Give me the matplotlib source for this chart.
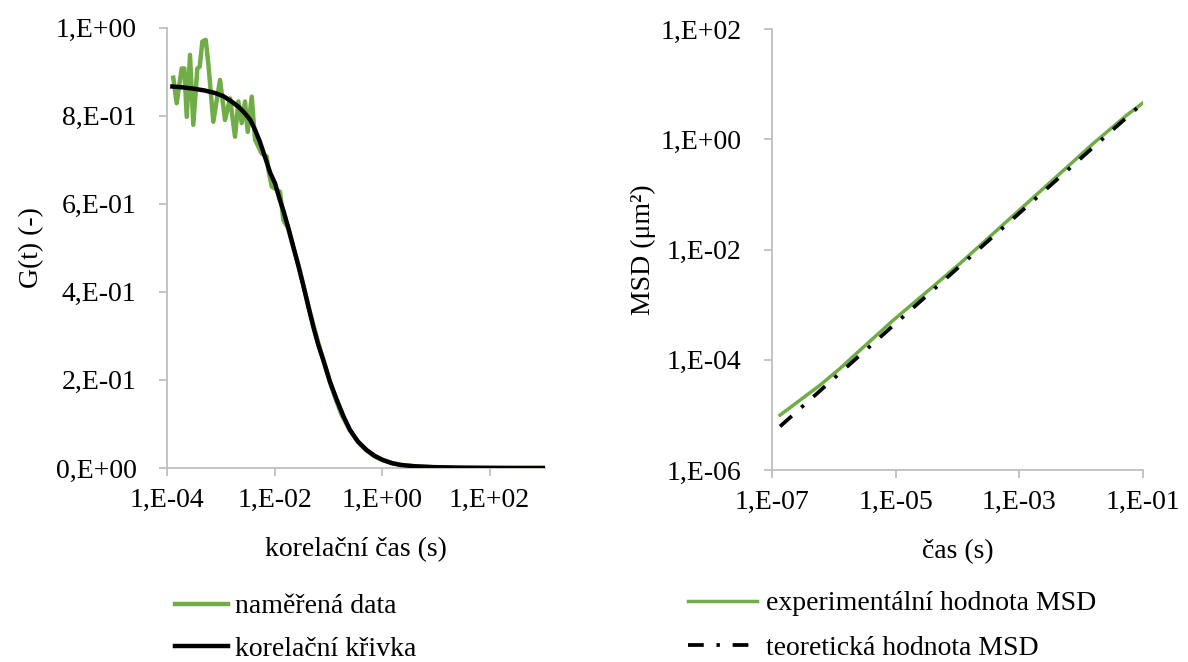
import numpy as np
import matplotlib
matplotlib.use("Agg")
import matplotlib.pyplot as plt
from matplotlib.ticker import FixedLocator, FixedFormatter

plt.rcParams['font.family'] = ['Liberation Serif', 'DejaVu Serif']
plt.rcParams['font.size'] = 20

GREEN = '#70AD47'
GRAY = '#BFBFBF'

# --- left panel: correlation function (log10 of time, G) ---
meas_logt = [-3.883, -3.820, -3.727, -3.678, -3.633, -3.572, -3.511, -3.436, -3.392,
             -3.343, -3.280, -3.232, -3.139, -3.014, -2.921, -2.828, -2.735, -2.673,
             -2.610, -2.549, -2.499, -2.424, -2.363, -2.238, -2.145, -2.115, -2.052,
             -1.898, -1.836, -1.75, -1.65, -1.55, -1.45, -1.35, -1.25, -1.15, -1.05,
             -0.95, -0.85, -0.75, -0.60, -0.45, -0.30, -0.15, 0.0, 0.2, 0.4, 0.7,
             1.0, 1.5, 2.0, 2.5, 3.03]
meas_g = [0.886, 0.828, 0.907, 0.907, 0.797, 0.938, 0.779, 0.907, 0.911,
          0.968, 0.972, 0.919, 0.786, 0.881, 0.790, 0.839, 0.752, 0.832,
          0.783, 0.832, 0.763, 0.843, 0.745, 0.714, 0.707, 0.677, 0.639,
          0.627, 0.563, 0.545, 0.500, 0.458, 0.408, 0.358, 0.312, 0.268, 0.228,
          0.188, 0.152, 0.120, 0.086, 0.060, 0.041, 0.027, 0.018, 0.011, 0.006, 0.003,
          0.0015, 0.0005, 0.0002, 0.0, 0.0]

fit_logt = [-3.90, -3.70, -3.50, -3.30, -3.10, -2.95, -2.80, -2.67, -2.55, -2.45,
            -2.36, -2.27, -2.18, -2.08, -1.99, -1.91, -1.84, -1.75, -1.65, -1.55,
            -1.46, -1.37, -1.28, -1.19, -1.09, -0.97, -0.84, -0.72, -0.60, -0.45,
            -0.29, -0.13, 0.02, 0.18, 0.34, 0.60, 0.95, 1.40, 2.00, 2.60, 3.03]
fit_g = [0.866, 0.864, 0.861, 0.857, 0.851, 0.844, 0.832, 0.820, 0.805, 0.790,
         0.767, 0.740, 0.707, 0.670, 0.646, 0.612, 0.586, 0.548, 0.502, 0.456,
         0.412, 0.366, 0.321, 0.281, 0.244, 0.196, 0.154, 0.118, 0.087, 0.060,
         0.041, 0.027, 0.018, 0.011, 0.007, 0.004, 0.002, 0.0008, 0.0002, 0.0, 0.0]

# --- right panel: MSD (log10 of time, log10 of MSD in um^2) ---
exp_logt = [-6.87, -6.547, -6.223, -5.900, -5.576, -5.037, -4.497, -3.958,
            -3.419, -2.879, -2.340, -1.801, -1.261, -1.0]
exp_logmsd = [-5.005, -4.733, -4.461, -4.158, -3.826, -3.281, -2.768, -2.252,
              -1.708, -1.163, -0.619, -0.074, 0.439, 0.66]

theo_logt = [-6.87, -5.0, -3.0, -1.0]
theo_logmsd = [-5.21, -3.34, -1.34, 0.66]

left_ticks = [1e-4, 1e-2, 1e0, 1e2]
left_ticklabels = ['1,E-04', '1,E-02', '1,E+00', '1,E+02']
left_yticks = [0.0, 0.2, 0.4, 0.6, 0.8, 1.0]
left_yticklabels = ['0,E+00', '2,E-01', '4,E-01', '6,E-01', '8,E-01', '1,E+00']
right_xticks = [1e-7, 1e-5, 1e-3, 1e-1]
right_xticklabels = ['1,E-07', '1,E-05', '1,E-03', '1,E-01']
right_yticks = [1e-6, 1e-4, 1e-2, 1e0, 1e2]
right_yticklabels = ['1,E-06', '1,E-04', '1,E-02', '1,E+00', '1,E+02']

fig = plt.figure(figsize=(11.88, 6.62), dpi=100)
ax1 = fig.add_axes([167 / 1188, 1 - 468 / 662, (545 - 167) / 1188, (468 - 27.5) / 662])
ax2 = fig.add_axes([772 / 1188, 1 - 470 / 662, (1143 - 772) / 1188, (470 - 29) / 662])


def style(ax):
    for s in ['top', 'right']:
        ax.spines[s].set_visible(False)
    for s in ['left', 'bottom']:
        ax.spines[s].set_color(GRAY)
        ax.spines[s].set_linewidth(1.3)
    ax.tick_params(which='major', direction='out', length=6, width=1.3, color=GRAY,
                   labelsize=20, pad=8)
    ax.tick_params(axis='y', pad=16)
    ax.tick_params(which='minor', length=0)


ax1.plot(10 ** np.array(meas_logt), meas_g, color=GREEN, lw=3.2, solid_joinstyle='round',
         label='naměřená data', zorder=2)
ax1.plot(10 ** np.array(fit_logt), fit_g, color='black', lw=3.2, label='korelační křivka',
         zorder=3)
ax1.set_xscale('log')
ax1.set_xlim(1e-4, 10 ** 3.03)
ax1.set_ylim(0, 1.0)
ax1.xaxis.set_major_locator(FixedLocator(left_ticks))
ax1.xaxis.set_major_formatter(FixedFormatter(left_ticklabels))
ax1.xaxis.set_minor_locator(FixedLocator([]))
ax1.yaxis.set_major_locator(FixedLocator(left_yticks))
ax1.yaxis.set_major_formatter(FixedFormatter(left_yticklabels))
style(ax1)
ax1.set_xlabel('korelační čas (s)', fontsize=20, labelpad=18)
ax1.set_ylabel('G(t) (-)', fontsize=20, labelpad=8)
ax1.legend(loc='upper left', bbox_to_anchor=(175 / 1188, 1 - 594 / 662),
           bbox_transform=fig.transFigure, frameon=False, fontsize=20,
           handlelength=1.9, handletextpad=0.25, labelspacing=0.6, borderpad=0,
           borderaxespad=0)

ax2.plot(10 ** np.array(exp_logt), 10 ** np.array(exp_logmsd), color=GREEN, lw=2.5,
         label='experimentální hodnota MSD', zorder=2)
ax2.plot(10 ** np.array(theo_logt), 10 ** np.array(theo_logmsd), color='black', lw=2.7,
         linestyle=(0, (4.2, 3.4, 0.9, 3.4)), label='teoretická hodnota MSD', zorder=3)
ax2.set_xscale('log')
ax2.set_yscale('log')
ax2.set_xlim(1e-7, 1e-1)
ax2.set_ylim(1e-6, 1e2)
ax2.xaxis.set_major_locator(FixedLocator(right_xticks))
ax2.xaxis.set_major_formatter(FixedFormatter(right_xticklabels))
ax2.xaxis.set_minor_locator(FixedLocator([]))
ax2.yaxis.set_major_locator(FixedLocator(right_yticks))
ax2.yaxis.set_major_formatter(FixedFormatter(right_yticklabels))
ax2.yaxis.set_minor_locator(FixedLocator([]))
style(ax2)
ax2.set_xlabel('čas (s)', fontsize=20, labelpad=18)
ax2.set_ylabel('MSD (μm²)', fontsize=20, labelpad=3)
ax2.legend(loc='upper left', bbox_to_anchor=(688 / 1188, 1 - 591 / 662),
           bbox_transform=fig.transFigure, frameon=False, fontsize=20,
           handlelength=2.5, handletextpad=0.3, labelspacing=0.68, borderpad=0,
           borderaxespad=0)

fig.savefig('out.png', dpi=100)
